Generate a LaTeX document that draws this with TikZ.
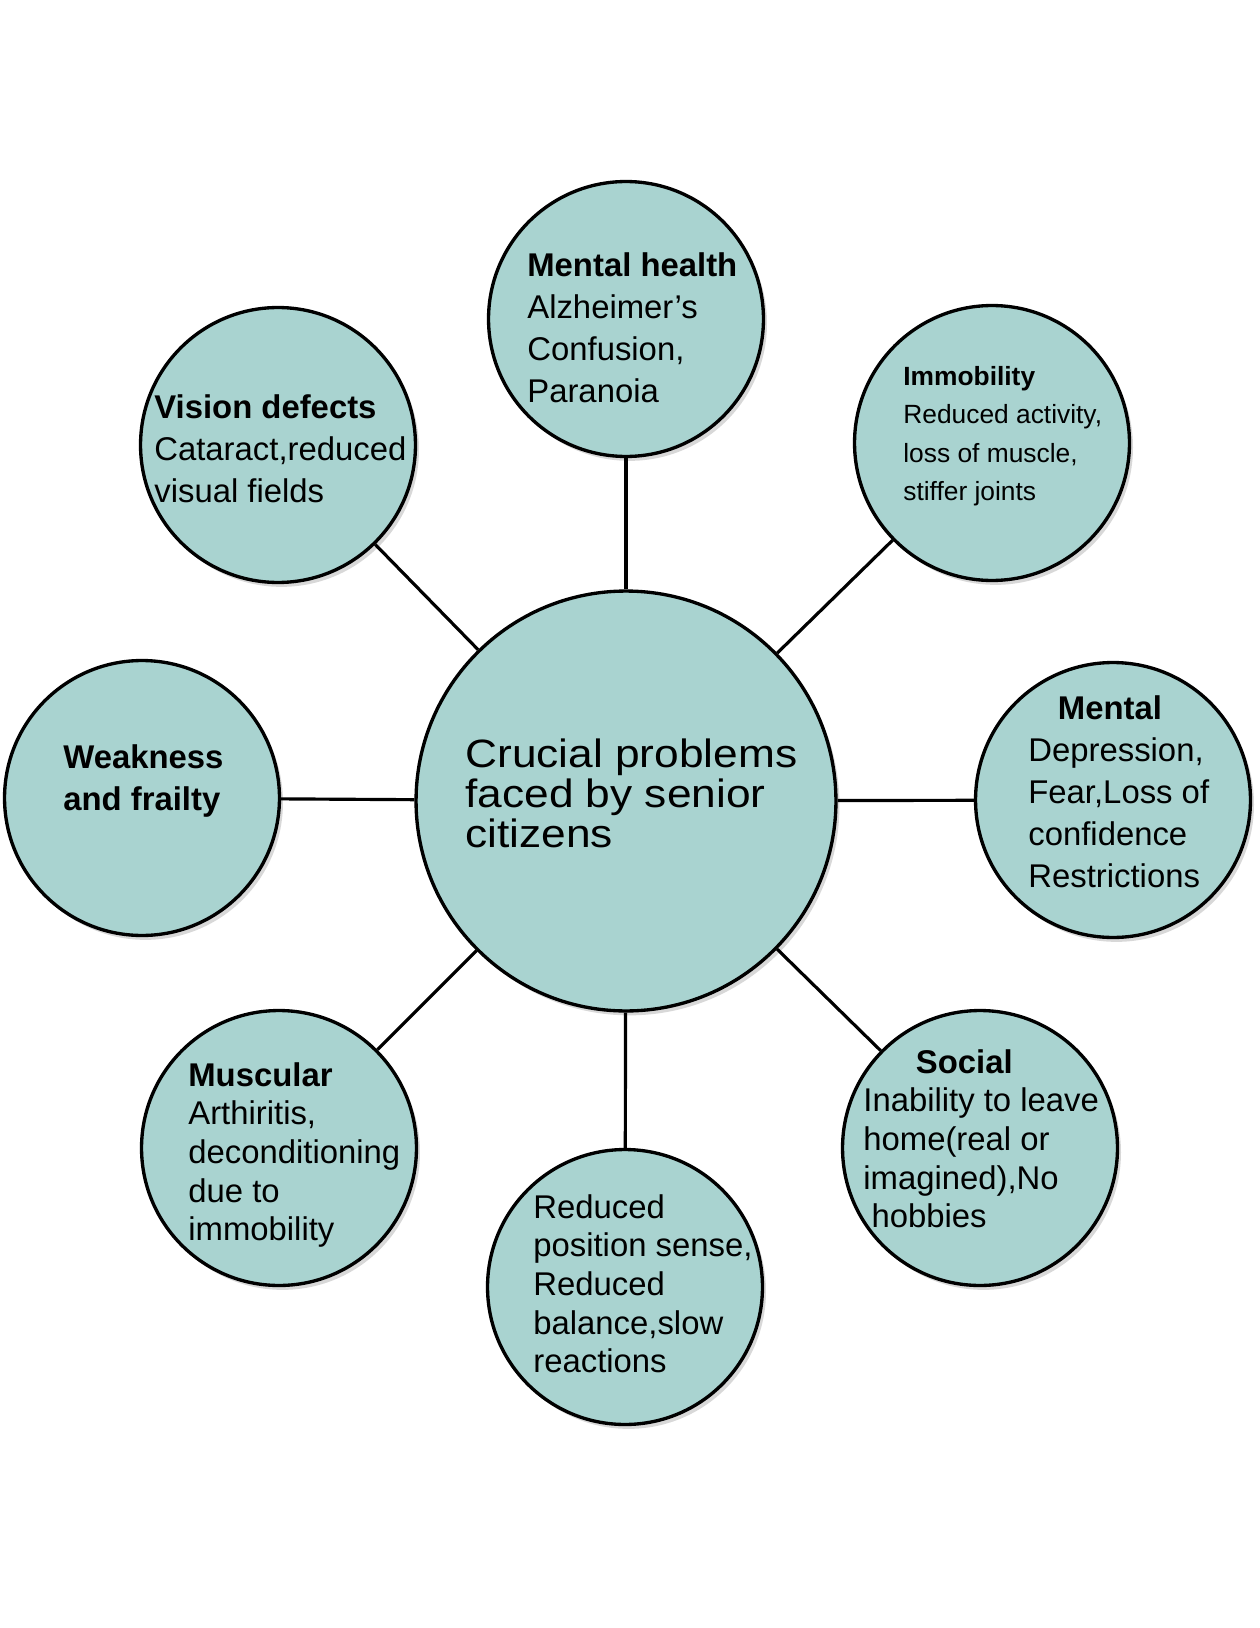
\documentclass[tikz,border=0pt]{standalone}
\usepackage{fontspec}
\setmainfont{Liberation Sans}
\newfontfamily\widefont[FakeStretch=1.12]{Liberation Sans}
\usetikzlibrary{shadows}
\definecolor{bubblefill}{HTML}{A9D3D0}

\begin{document}
\begin{tikzpicture}[x=0.02cm, y=-0.02cm,
    bubble/.style={circle, draw, line width=1.9pt, fill=bubblefill, minimum size=5.5cm, inner sep=0pt,
      drop shadow={shadow xshift=2pt, shadow yshift=-2.5pt, opacity=0.3}},
    hub/.style ={bubble, minimum size=8.4cm},
    txt/.style ={anchor=north west, align=left, inner sep=0pt, font=\fontsize{18.7}{23.9}\selectfont},
    txtb/.style={txt, font=\fontsize{18.7}{22}\selectfont},
    link/.style={line width=1.8pt},
  ]
  \fill[white] (0,0) rectangle (1259,1628);
  \useasboundingbox (0,0) rectangle (1259,1628);

  % circles
  \node[hub]    (c)   at (626,801)  {};
  \node[bubble] (mh)  at (626,319)  {};
  \node[bubble] (imm) at (992,443)  {};
  \node[bubble] (men) at (1113,800) {};
  \node[bubble] (soc) at (980,1148) {};
  \node[bubble] (bal) at (625,1287) {};
  \node[bubble] (mus) at (279,1148) {};
  \node[bubble] (wk)  at (142,798)  {};
  \node[bubble] (vis) at (278,445)  {};

  % spokes
  \foreach \n in {mh,imm,men,soc,bal,mus,wk,vis}
    \draw[link] (c) -- (\n);

  % texts
  \node[txt, font=\widefont\fontsize{22.5}{22.8}\selectfont] (ct) at (465,738)
    {Crucial problems\\faced by senior\\citizens};
  \node[txt] (mht) at (527,252) {\textbf{Mental health}\\Alzheimer’s\\Confusion,\\Paranoia};
  \node[txt, font=\fontsize{15}{21.9}\selectfont] (immt) at (903,366)
    {\textbf{Immobility}\\Reduced activity,\\loss of muscle,\\stiffer joints};
  \node[txt] (ment) at (1028,695) {\hspace*{0.9em}\textbf{Mental}\\Depression,\\Fear,Loss of\\confidence\\Restrictions};
  \node[txtb] (soct) at (863,1049) {\hspace*{1.6em}\textbf{Social}\\Inability to leave\\home(real or\\imagined),No\\\hspace*{0.25em}hobbies};
  \node[txtb] (balt) at (533,1194) {Reduced\\position sense,\\Reduced\\balance,slow\\reactions};
  \node[txtb] (must) at (188,1062) {\textbf{Muscular}\\Arthiritis,\\deconditioning\\due to\\immobility};
  \node[txt, font=\bfseries\fontsize{18.7}{23.9}\selectfont] (wkt) at (63,744) {Weakness\\and frailty};
  \node[txt] (vist) at (154,394) {\textbf{Vision defects}\\Cataract,reduced\\visual fields};
\end{tikzpicture}
\end{document}
